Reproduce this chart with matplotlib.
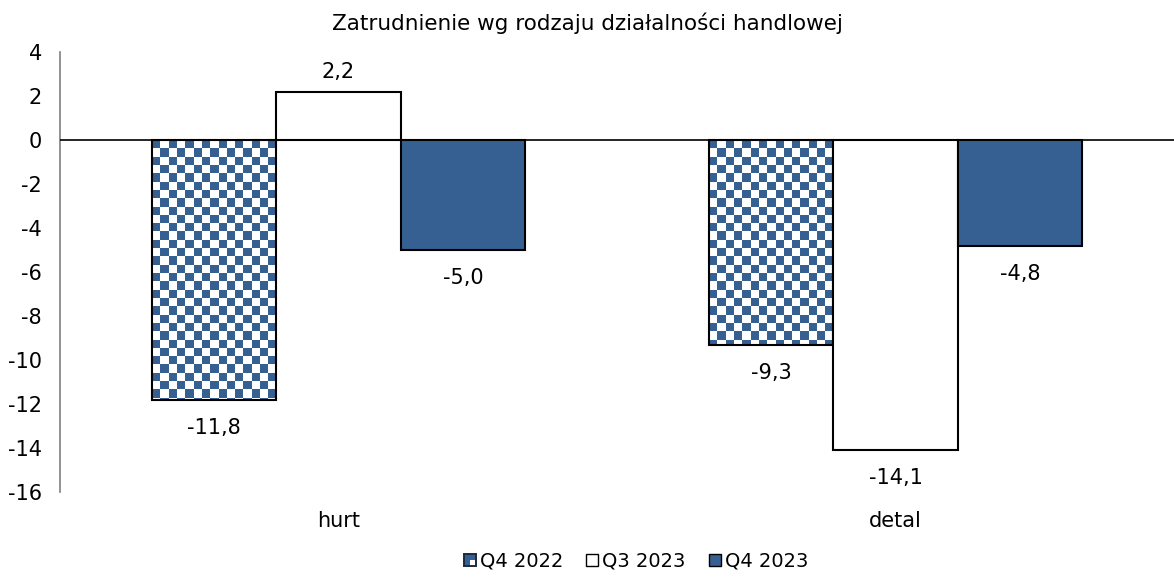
import numpy as np
import matplotlib
matplotlib.use("Agg")
import matplotlib.pyplot as plt
from matplotlib.patches import Rectangle
from matplotlib.legend_handler import HandlerBase
from matplotlib.colors import ListedColormap

categories = ["hurt", "detal"]
series_names = ["Q4 2022", "Q3 2023", "Q4 2023"]
q4_2022 = [-11.8, -9.3]
q3_2023 = [2.2, -14.1]
q4_2023 = [-5.0, -4.8]
yticks = list(range(-16, 5, 2))

BLUE = "#366092"
FS = 15
plt.rcParams["font.family"] = ["DejaVu Sans"]

W, H = 1174, 578
fig = plt.figure(figsize=(W / 100, H / 100), dpi=100)
ax = fig.add_axes([60 / W, 1 - 492 / H, (W - 60) / W, 440 / H])

x = np.arange(len(categories))
bw = 0.2235
series = [q4_2022, q3_2023, q4_2023]
bars = []
for i, vals in enumerate(series):
    fc = ["white", "white", BLUE][i]
    b = ax.bar(x + (i - 1) * bw, vals, bw, facecolor=fc, edgecolor="black",
               linewidth=1.5, zorder=3)
    bars.append(b)
    for rect, v in zip(b, vals):
        cx = rect.get_x() + rect.get_width() / 2
        lab = f"{v:.1f}".replace(".", ",")
        if v >= 0:
            ax.annotate(lab, (cx, v), xytext=(0, 7), textcoords="offset points",
                        ha="center", va="bottom", fontsize=FS)
        else:
            ax.annotate(lab, (cx, v), xytext=(0, -13), textcoords="offset points",
                        ha="center", va="top", fontsize=FS)

ax.set_xlim(-0.5, 1.5)
ax.set_ylim(-16, 4)

# checker texture for first series
sq = 8.3 / 22.0
sqx = 8.3 / 558.0
ny = int(np.ceil(20 / sq)) + 2
nx = int(np.ceil(2 / sqx)) + 2
ii, jj = np.meshgrid(np.arange(nx), np.arange(ny))
checker = ((ii + jj) % 2).astype(float)
cmap = ListedColormap(["white", BLUE])
for rect in bars[0]:
    im = ax.imshow(checker, cmap=cmap, interpolation="nearest", aspect="auto",
                   extent=(rect.get_x(), rect.get_x() + nx * sqx, 0, -ny * sq),
                   origin="upper", zorder=2.5)
    clip = Rectangle((rect.get_x(), rect.get_y()), rect.get_width(), rect.get_height(),
                     transform=ax.transData)
    im.set_clip_path(clip)
    rect.set_facecolor("none")
ax.set_xlim(-0.5, 1.5)
ax.set_ylim(-16, 4)

ax.axhline(0, color="black", linewidth=1.2, zorder=4)
ax.set_yticks(yticks)
ax.set_yticklabels([str(t) for t in yticks], fontsize=FS)
ax.set_xticks(x)
ax.set_xticklabels(categories, fontsize=FS)
ax.tick_params(axis="y", length=0, pad=13)
ax.tick_params(axis="x", length=0, pad=14)
for s in ["top", "right", "bottom"]:
    ax.spines[s].set_visible(False)
ax.spines["left"].set_color("#808080")
ax.spines["left"].set_linewidth(1.2)

fig.text(587 / W, 1 - 23 / H, "Zatrudnienie wg rodzaju działalności handlowej",
         ha="center", va="center", fontsize=15.5)


class CheckerHandler(HandlerBase):
    def create_artists(self, legend, orig_handle, xdescent, ydescent, width, height,
                       fontsize, trans):
        s = min(width, height)
        x0 = -xdescent + (width - s) / 2
        y0 = -ydescent + (height - s) / 2
        h = s / 2
        return [Rectangle((x0, y0), s, s, facecolor=BLUE, edgecolor="none", transform=trans),
                Rectangle((x0 + h, y0), h, h, facecolor="white", edgecolor="none", transform=trans),
                Rectangle((x0, y0), s, s, facecolor="none", edgecolor="#1a2a40", lw=1.4, transform=trans)]


class SquareHandler(HandlerBase):
    def create_artists(self, legend, orig_handle, xdescent, ydescent, width, height,
                       fontsize, trans):
        s = min(width, height)
        x0 = -xdescent + (width - s) / 2
        y0 = -ydescent + (height - s) / 2
        return [Rectangle((x0, y0), s, s, facecolor=orig_handle.get_facecolor(),
                          edgecolor="black", lw=1.0, transform=trans)]


h1 = Rectangle((0, 0), 1, 1, facecolor=BLUE)
h2 = Rectangle((0, 0), 1, 1, facecolor="white")
h3 = Rectangle((0, 0), 1, 1, facecolor=BLUE)
leg = fig.legend([h1, h2, h3], series_names, loc="center",
                 bbox_to_anchor=(636 / W, 1 - 561 / H), ncol=3, frameon=False,
                 fontsize=14, handlelength=0.62, handleheight=0.62, handletextpad=0.2,
                 columnspacing=1.18,
                 handler_map={h1: CheckerHandler(), h2: SquareHandler(), h3: SquareHandler()})

fig.savefig("out.png", dpi=100)
